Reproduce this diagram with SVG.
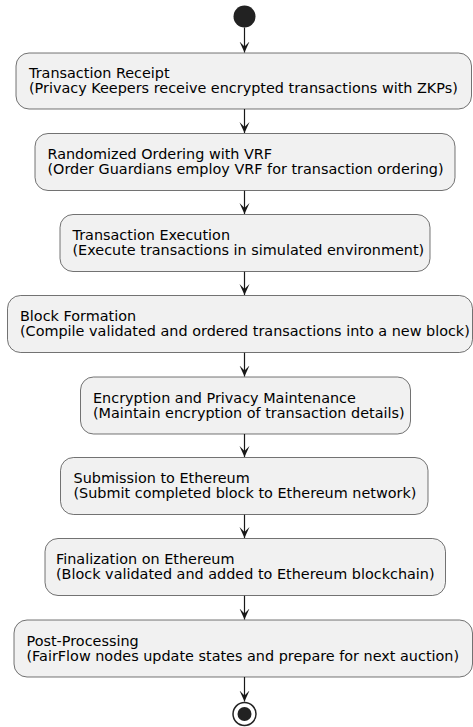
<svg xmlns="http://www.w3.org/2000/svg" width="473" height="727" viewBox="0 0 473 727">
<style>
.box{fill:#F1F1F1;stroke:#181818;stroke-width:0.6}
.t{font-family:"DejaVu Sans",sans-serif;font-size:14.4px;fill:#000}
.ln{stroke:#181818;stroke-width:1.2;fill:none}
.ah{fill:#181818;stroke:#181818;stroke-width:1}
</style>
<defs>
<marker id="arr" viewBox="0 0 12 12" refX="11" refY="6" markerWidth="12" markerHeight="12" markerUnits="userSpaceOnUse" orient="auto">
<path d="M0,1 L11,6 L0,11 L5,6 Z" fill="#181818"/>
</marker>
</defs>
<rect width="473" height="727" fill="#FFFFFF"/>
<g id="connectors">
<line class="ln" x1="244.5" y1="27.5" x2="244.5" y2="52.5" marker-end="url(#arr)"/>
<line class="ln" x1="244.5" y1="109" x2="244.5" y2="133" marker-end="url(#arr)"/>
<line class="ln" x1="244.5" y1="190.5" x2="244.5" y2="214" marker-end="url(#arr)"/>
<line class="ln" x1="244.5" y1="271.5" x2="244.5" y2="295" marker-end="url(#arr)"/>
<line class="ln" x1="244.5" y1="352.5" x2="244.5" y2="376.5" marker-end="url(#arr)"/>
<line class="ln" x1="244.5" y1="434" x2="244.5" y2="457" marker-end="url(#arr)"/>
<line class="ln" x1="244.5" y1="514.5" x2="244.5" y2="538" marker-end="url(#arr)"/>
<line class="ln" x1="244.5" y1="595.5" x2="244.5" y2="619.5" marker-end="url(#arr)"/>
<line class="ln" x1="244.5" y1="677" x2="244.5" y2="701.5" marker-end="url(#arr)"/>
</g>
<g id="start"><circle cx="244.5" cy="16.5" r="11" fill="#222222"/></g>
<g id="n1">
<rect class="box" x="16" y="53" width="455.5" height="56" rx="13"/>
<text class="t" x="29" y="78">Transaction Receipt</text>
<text class="t" x="29" y="93">(Privacy Keepers receive encrypted transactions with ZKPs)</text>
</g>
<g id="n2">
<rect class="box" x="35" y="133.5" width="420" height="57" rx="13"/>
<text class="t" x="47.5" y="159">Randomized Ordering with VRF</text>
<text class="t" x="47.5" y="174">(Order Guardians employ VRF for transaction ordering)</text>
</g>
<g id="n3">
<rect class="box" x="60" y="214.5" width="370" height="57" rx="13"/>
<text class="t" x="72.5" y="240">Transaction Execution</text>
<text class="t" x="72.5" y="255">(Execute transactions in simulated environment)</text>
</g>
<g id="n4">
<rect class="box" x="7.5" y="295.5" width="465" height="57" rx="13"/>
<text class="t" x="20" y="321">Block Formation</text>
<text class="t" x="20" y="336">(Compile validated and ordered transactions into a new block)</text>
</g>
<g id="n5">
<rect class="box" x="80.5" y="377" width="330" height="57" rx="13"/>
<text class="t" x="93" y="402.5">Encryption and Privacy Maintenance</text>
<text class="t" x="93" y="417.5">(Maintain encryption of transaction details)</text>
</g>
<g id="n6">
<rect class="box" x="60.5" y="457.5" width="367.5" height="57" rx="13"/>
<text class="t" x="73.5" y="483">Submission to Ethereum</text>
<text class="t" x="73.5" y="498">(Submit completed block to Ethereum network)</text>
</g>
<g id="n7">
<rect class="box" x="45" y="538.5" width="400.5" height="57" rx="13"/>
<text class="t" x="56" y="564">Finalization on Ethereum</text>
<text class="t" x="56" y="579">(Block validated and added to Ethereum blockchain)</text>
</g>
<g id="n8">
<rect class="box" x="14" y="620" width="458.5" height="57" rx="13"/>
<text class="t" x="26.5" y="645.5">Post-Processing</text>
<text class="t" x="26.5" y="660.5">(FairFlow nodes update states and prepare for next auction)</text>
</g>
<g id="end">
<circle cx="244.5" cy="714" r="11.5" fill="none" stroke="#222222" stroke-width="1.5"/>
<circle cx="244.5" cy="714" r="7" fill="#222222"/>
</g>
</svg>
